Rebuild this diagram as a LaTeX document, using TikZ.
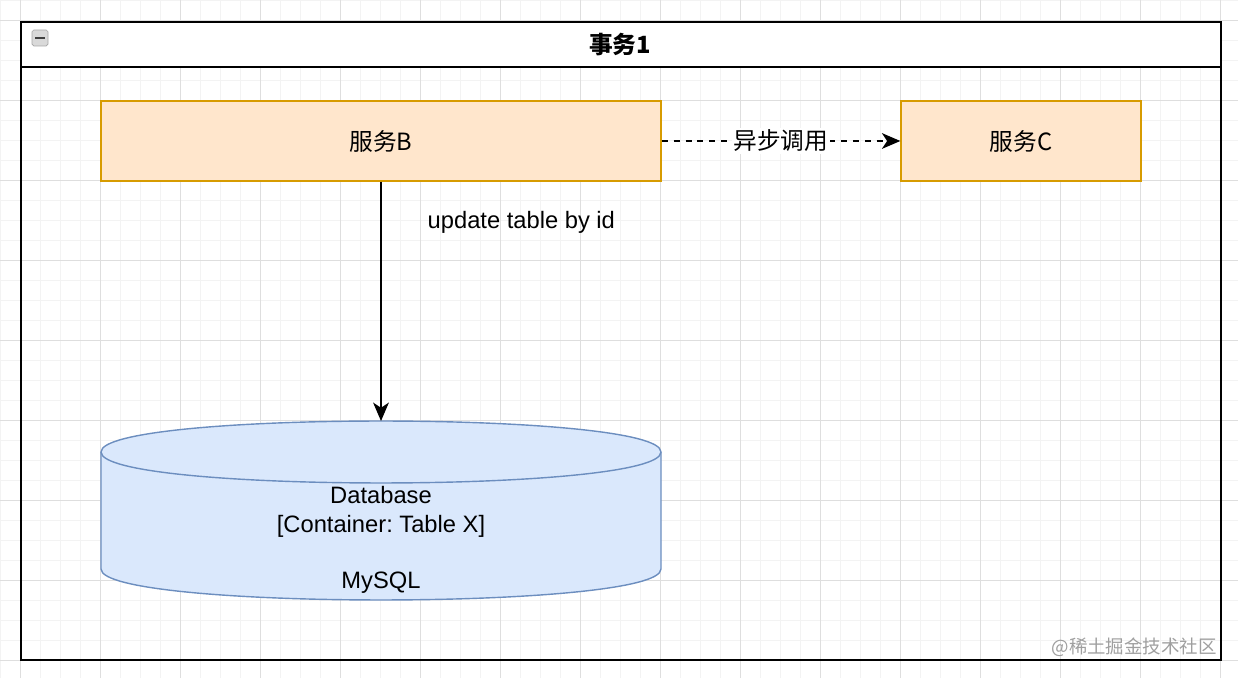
\documentclass[tikz,border=0pt]{standalone}
\usepackage{fontspec}
\setmainfont{Liberation Sans}
\newfontfamily\cjk{Noto Sans CJK SC}
\usetikzlibrary{arrows.meta,positioning}
\definecolor{svcfill}{HTML}{FFE6CC}
\definecolor{svcdraw}{HTML}{D79B00}
\definecolor{dbfill}{HTML}{DAE8FC}
\definecolor{dbdraw}{HTML}{6C8EBF}
\definecolor{gridminor}{HTML}{F3F3F3}
\definecolor{gridmajor}{HTML}{DEDEDE}
\frenchspacing
\newcommand{\lblfont}{\fontsize{13.5}{16}\selectfont}
\tikzstyle{svcbox}=[draw=svcdraw, fill=svcfill, line width=0.8pt,
  minimum height=1.6cm, font=\cjk\lblfont]
\tikzstyle{dbtext}=[align=center, font=\lblfont]
\tikzset{
    call/.style={draw, line width=0.8pt, -{Stealth[length=10.5pt,width=9pt,inset=3pt]}},
    asynccall/.style={call, dash pattern=on 3.4pt off 3.4pt}}

\begin{document}
\begin{tikzpicture}[x=0.02cm, y=-0.02cm]
\useasboundingbox (0,0) rectangle (1238,678);
% Draw background grid
\begin{scope}
\clip (0,0) rectangle (1238,678);
\foreach \x in {0,20,...,1240} \draw[gridminor, line width=0.5pt] (\x,0) -- (\x,678);
\foreach \y in {0,20,...,680} \draw[gridminor, line width=0.5pt] (0,\y) -- (1238,\y);
\foreach \x in {20,100,...,1240} \draw[gridmajor, line width=0.5pt] (\x,0) -- (\x,678);
\foreach \y in {20,100,...,680} \draw[gridmajor, line width=0.5pt] (0,\y) -- (1238,\y);
\end{scope}

% Draw transaction container
\fill[white] (21,22) rectangle (1221,67);
\draw[line width=1.3pt] (21,22) rectangle (1221,660);
\draw[line width=1.3pt] (21,67) -- (1221,67);
\fill[gray!30, draw=gray!70, rounded corners=1pt] (32,30) rectangle (48,46);
\draw[line width=1.6pt, black!75] (35,38) -- (45,38);
\node (title) [font=\cjk\bfseries\lblfont] at (620,45) {事务1};

% Draw diagram elements
\node (svcB) [svcbox, minimum width=11.2cm] at (381,141) {服务B};
\node (svcC) [svcbox, minimum width=4.8cm] at (1021,141) {服务C};

% Draw database cylinder
\filldraw[fill=dbfill, draw=dbdraw, line width=0.8pt]
  (101,452) .. controls (101,410.7) and (661,410.7) .. (661,452)
  -- (661,569) .. controls (661,610.3) and (101,610.3) .. (101,569) -- cycle;
\draw[dbdraw, line width=0.8pt]
  (101,452) .. controls (101,493.3) and (661,493.3) .. (661,452);
\coordinate (dbtop) at (381,421);
\node (db) [dbtext] at (381,540) {Database\\{}[Container: Table X]\\ \\MySQL};

% Draw arrows between elements
\draw[call] (svcB) -- node[pos=0.17, anchor=west, inner sep=0, xshift=0.92cm, font=\lblfont] {update table by id} (dbtop);
\draw[asynccall] (svcB) -- node[fill=white, inner sep=1pt, font=\cjk\lblfont] {异步调用} (svcC);

\node (mark) [anchor=south east, inner sep=0, text=gray!75, font=\cjk\fontsize{10.5}{12}\selectfont] at (1217,657) {@稀土掘金技术社区};
\end{tikzpicture}
\end{document}
